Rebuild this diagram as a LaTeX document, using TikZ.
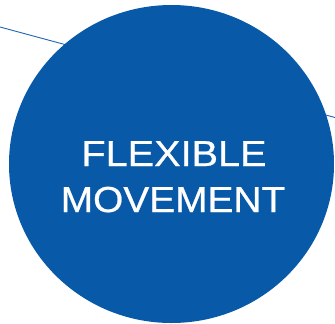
\documentclass[tikz,border=0pt]{standalone}
\usepackage{fontspec}
\newfontfamily\lblfont[FakeBold=0.6]{Liberation Sans}
\definecolor{circblue}{RGB}{8,90,168}
\definecolor{lineblue}{RGB}{30,100,175}
\begin{document}
\begin{tikzpicture}[x=1bp,y=-1bp,
  lbl/.style={text=white,font=\lblfont\fontsize{39}{42}\selectfont,anchor=base,inner sep=0pt}]
\useasboundingbox (0,0) rectangle (335,324);
\coordinate (l1) at (0,27);
\coordinate (l2) at (335,117.5);
\draw[lineblue,line width=0.9bp] (l1) -- (l2);
\fill[circblue] (171.5,164) ellipse [x radius=162.5, y radius=159];
\node[lbl] (t1) at (174,166) {\scalebox{1.02}[0.93]{FLEXIBLE}};
\node[lbl] (t2) at (173,212) {\scalebox{1}[0.93]{MOVEMENT}};
\end{tikzpicture}
\end{document}
